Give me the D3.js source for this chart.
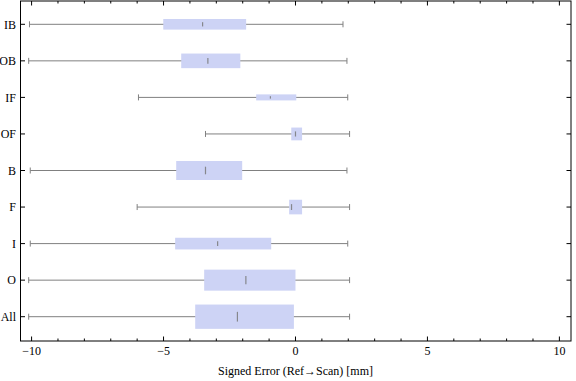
<!DOCTYPE html>
<html>
<head>
<meta charset="utf-8">
<script src="https://cdn.jsdelivr.net/npm/d3@7"></script>
<style>
  html, body { margin: 0; padding: 0; background: #fff; }
  svg { display: block; }
  text { font-family: "Liberation Serif", "DejaVu Serif", serif; }
</style>
</head>
<body>
<svg id="chart" width="576" height="381"></svg>
<script>
// ---- data ----
const categories = ["IB", "OB", "IF", "OF", "B", "F", "I", "O", "All"];
const whiskerLow  = [-10.08, -10.11, -5.95, -3.41, -10.05, -6.00, -10.05, -10.11, -10.11];
const q1          = [-5.01, -4.33, -1.49, -0.16, -4.52, -0.24, -4.56, -3.46, -3.80];
const median      = [-3.52, -3.32, -0.95,  0.00, -3.41, -0.15, -2.95, -1.88, -2.20];
const q3          = [-1.87, -2.09,  0.03,  0.25, -2.02,  0.25, -0.92,  0.00, -0.06];
const whiskerHigh = [ 1.80,  1.95,  1.98,  2.05,  1.95,  2.05,  1.98,  2.05,  2.05];
// relative box thickness (fraction of category spacing)
const relWeight   = [0.29, 0.40, 0.165, 0.35, 0.52, 0.40, 0.32, 0.575, 0.665];
const majorTicks  = [-10, -5, 0, 5, 10];
const minorTicks  = d3.range(-10, 11, 1);
const xLabel = "Signed Error (Ref\u2192Scan) [mm]";

// ---- layout ----
const svg = d3.select("#chart");
const L = 20.5, R = 571, T = 1, B = 341;

const x = d3.scaleLinear().domain([-10.42, 10.44]).range([L, R]);
const y = d3.scalePoint().domain(categories).range([0, B]).padding(0.665);
const step = y.step();

const rows = categories.map((c, i) => ({
  c, lo: whiskerLow[i], q1: q1[i], med: median[i], q3: q3[i], hi: whiskerHigh[i], w: relWeight[i]
}));

const g = svg.append("g");

// whiskers
g.selectAll("line.wh").data(rows).join("line")
  .attr("x1", d => x(d.lo)).attr("x2", d => x(d.hi))
  .attr("y1", d => y(d.c)).attr("y2", d => y(d.c))
  .attr("stroke", "#808080").attr("stroke-width", 1);

// caps
const capH = 6;
["lo", "hi"].forEach(k => {
  g.selectAll("line.cap" + k).data(rows).join("line")
    .attr("x1", d => x(d[k])).attr("x2", d => x(d[k]))
    .attr("y1", d => y(d.c) - capH / 2).attr("y2", d => y(d.c) + capH / 2)
    .attr("stroke", "#808080").attr("stroke-width", 1);
});

// boxes
g.selectAll("rect.box").data(rows).join("rect")
  .attr("x", d => x(d.q1)).attr("width", d => x(d.q3) - x(d.q1))
  .attr("y", d => y(d.c) - d.w * step / 2).attr("height", d => d.w * step)
  .attr("fill", "#cdd3f5");

// median markers
g.selectAll("line.med").data(rows).join("line")
  .attr("x1", d => x(d.med)).attr("x2", d => x(d.med))
  .attr("y1", d => y(d.c) - d.w * step * 0.2).attr("y2", d => y(d.c) + d.w * step * 0.2)
  .attr("stroke", "#7a7a7a").attr("stroke-width", 1.2).attr("opacity", 0.85);

// frame
svg.append("rect").attr("x", L).attr("y", T).attr("width", R - L).attr("height", B - T)
  .attr("fill", "none").attr("stroke", "#000").attr("stroke-width", 1);

// x ticks (bottom & top, inward)
const tk = svg.append("g").attr("stroke", "#000").attr("stroke-width", 1);
minorTicks.forEach(v => {
  const len = majorTicks.includes(v) ? 4.5 : 2.5;
  tk.append("line").attr("x1", x(v)).attr("x2", x(v)).attr("y1", B).attr("y2", B - len);
  tk.append("line").attr("x1", x(v)).attr("x2", x(v)).attr("y1", T).attr("y2", T + len);
});
// y ticks (left & right, inward)
categories.forEach(c => {
  tk.append("line").attr("x1", L).attr("x2", L + 4.5).attr("y1", y(c)).attr("y2", y(c));
  tk.append("line").attr("x1", R).attr("x2", R - 4.5).attr("y1", y(c)).attr("y2", y(c));
});

// tick labels
svg.selectAll("text.xt").data(majorTicks).join("text")
  .attr("x", d => x(d)).attr("y", 355)
  .attr("text-anchor", "middle").attr("font-size", 12).attr("fill", "#000")
  .text(d => d < 0 ? "\u2212" + Math.abs(d) : String(d));

svg.selectAll("text.yt").data(categories).join("text")
  .attr("x", 16).attr("y", d => y(d)).attr("dy", "0.35em")
  .attr("text-anchor", "end").attr("font-size", 12).attr("fill", "#000")
  .text(d => d);

svg.append("text").attr("x", x(0)).attr("y", 375)
  .attr("text-anchor", "middle").attr("font-size", 12).attr("fill", "#000")
  .text(xLabel);
</script>
</body>
</html>
